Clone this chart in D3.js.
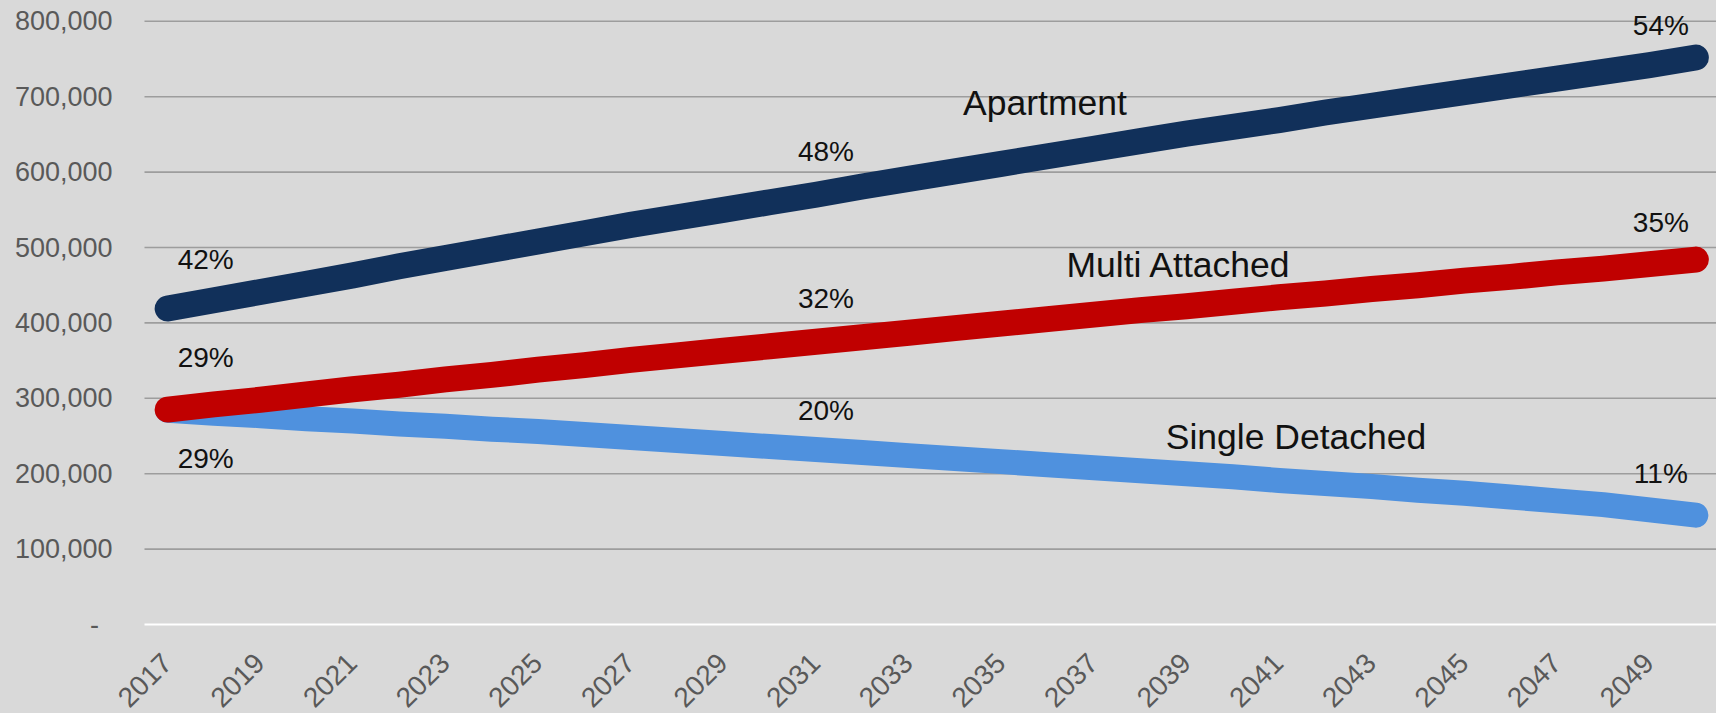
<!DOCTYPE html>
<html>
<head>
<meta charset="utf-8">
<script src="https://cdn.jsdelivr.net/npm/d3@7"></script>
<style>
  html, body { margin: 0; padding: 0; background: #d9d9d9; overflow: hidden; }
  svg { display: block; }
</style>
</head>
<body>
<svg id="chart" width="1716" height="713"></svg>
<script>
// ---------------- data ----------------
const years = ["2017","2018","2019","2020","2021","2022","2023","2024","2025","2026","2027",
               "2028","2029","2030","2031","2032","2033","2034","2035","2036","2037","2038",
               "2039","2040","2041","2042","2043","2044","2045","2046","2047","2048","2049","2050"];

const apartment = [419000,430000,441000,452000,463000,475000,486000,497000,508000,519000,530000,
                   540000,550000,560000,570000,581000,591000,601000,611000,621000,631000,641000,
                   651000,660000,669000,679000,688000,697000,706000,715000,724000,733000,742000,752000];

const multiAttached = [285000,292000,298000,305000,312000,318000,325000,331000,338000,344000,351000,
                       357000,363000,369000,375000,381000,387000,393000,399000,405000,411000,417000,
                       422000,428000,434000,439000,445000,450000,456000,461000,467000,472000,478000,484000];

const singleDetached = [284000,280000,277000,273000,270000,266000,263000,259000,256000,252000,248000,
                        244000,240000,236000,232000,228000,224000,220000,216000,212000,208000,204000,
                        200000,196000,191000,187000,183000,178000,174000,169000,164000,159000,152000,145000];

const seriesNames = ["Single Detached", "Multi Attached", "Apartment"];

const yTickValues = [0,100000,200000,300000,400000,500000,600000,700000,800000];
const yTickLabels = ["-","100,000","200,000","300,000","400,000","500,000","600,000","700,000","800,000"];

const xTickLabels = ["2017","2019","2021","2023","2025","2027","2029","2031","2033",
                     "2035","2037","2039","2041","2043","2045","2047","2049"];

const pctYears = ["2017","2031","2050"];
const apartmentPct = ["42%","48%","54%"];
const multiPct = ["29%","32%","35%"];
const singlePct = ["29%","20%","11%"];

// ---------------- layout / style ----------------
const W = 1716, H = 713;
const plot = { left: 144.5, right: 1719, top: 21.3, bottom: 624.5 };
const colors = { "Apartment": "#11305a", "Multi Attached": "#c00000", "Single Detached": "#4f91de" };
const lineWidth = { "Apartment": 26, "Multi Attached": 26, "Single Detached": 25 };
const pctDx = [38, 10, -35];
const pctDy = {
  "Apartment": [-40, -34, -22],
  "Multi Attached": [-43, -33.5, -27.5],
  "Single Detached": [58, -29.5, -32]
};
const nameLayout = {
  "Apartment":       { x: 1045, y: 115 },
  "Multi Attached":  { x: 1178, y: 277 },
  "Single Detached": { x: 1296, y: 448.5 }
};

const svg = d3.select("#chart");
svg.append("rect").attr("width", W).attr("height", H).attr("fill", "#d9d9d9");

const x = d3.scaleBand().domain(years).range([plot.left, plot.right]).paddingInner(0).paddingOuter(0);
const xc = d => x(d) + x.bandwidth() / 2;
const y = d3.scaleLinear().domain([0, 800000]).range([plot.bottom, plot.top]);

// gridlines
svg.append("g").selectAll("line")
  .data(yTickValues.filter(v => v !== 0))
  .join("line")
  .attr("x1", plot.left).attr("x2", W)
  .attr("y1", d => y(d)).attr("y2", d => y(d))
  .attr("stroke", "#9d9d9d").attr("stroke-width", 1.6);

// zero line
svg.append("line")
  .attr("x1", plot.left).attr("x2", W)
  .attr("y1", y(0)).attr("y2", y(0))
  .attr("stroke", "#ffffff").attr("stroke-width", 2.2);

// y axis
const yAxis = d3.axisLeft(y)
  .tickValues(yTickValues)
  .tickSize(0)
  .tickPadding(32)
  .tickFormat((d, i) => yTickLabels[i] === "-" ? "-\u2002" : yTickLabels[i]);
const gy = svg.append("g").attr("transform", `translate(${plot.left},0)`).call(yAxis);
gy.select(".domain").remove();
gy.selectAll("text")
  .attr("font-family", "Liberation Sans, Arial, sans-serif")
  .attr("font-size", 27)
  .attr("fill", "#595959");

// x axis (ticks already sit at band centres)
const xAxis = d3.axisBottom(x).tickValues(xTickLabels).tickSize(0).tickFormat(d => d);
const gx = svg.append("g").attr("transform", `translate(0,${plot.bottom})`).call(xAxis);
gx.select(".domain").remove();
gx.selectAll(".tick text")
  .attr("font-family", "Liberation Sans, Arial, sans-serif")
  .attr("font-size", 28)
  .attr("fill", "#595959")
  .attr("text-anchor", "end")
  .attr("y", 0).attr("dy", 0)
  .attr("transform", `translate(6,40.5) rotate(-45)`);

// lines
const seriesData = {
  "Single Detached": singleDetached,
  "Multi Attached": multiAttached,
  "Apartment": apartment
};
const line = d3.line().x((d, i) => xc(years[i])).y(d => y(d)).curve(d3.curveLinear);
svg.append("g").selectAll("path")
  .data(seriesNames)
  .join("path")
  .attr("d", name => line(seriesData[name]))
  .attr("fill", "none")
  .attr("stroke", name => colors[name])
  .attr("stroke-width", name => lineWidth[name])
  .attr("stroke-linecap", "round")
  .attr("stroke-linejoin", "round");

// percentage labels
const pctData = {
  "Apartment": apartmentPct,
  "Multi Attached": multiPct,
  "Single Detached": singlePct
};
const labelG = svg.append("g")
  .attr("font-family", "Liberation Sans, Arial, sans-serif")
  .attr("font-size", 28)
  .attr("fill", "#111")
  .attr("text-anchor", "middle");
seriesNames.forEach(name => {
  pctYears.forEach((yr, j) => {
    const idx = years.indexOf(yr);
    labelG.append("text")
      .attr("x", xc(yr) + pctDx[j])
      .attr("y", y(seriesData[name][idx]) + pctDy[name][j])
      .text(pctData[name][j]);
  });
});

// series name labels
svg.append("g")
  .attr("font-family", "Liberation Sans, Arial, sans-serif")
  .attr("font-size", 35.5)
  .attr("fill", "#111")
  .attr("text-anchor", "middle")
  .selectAll("text")
  .data(seriesNames)
  .join("text")
  .attr("x", d => nameLayout[d].x)
  .attr("y", d => nameLayout[d].y)
  .text(d => d);
</script>
</body>
</html>
